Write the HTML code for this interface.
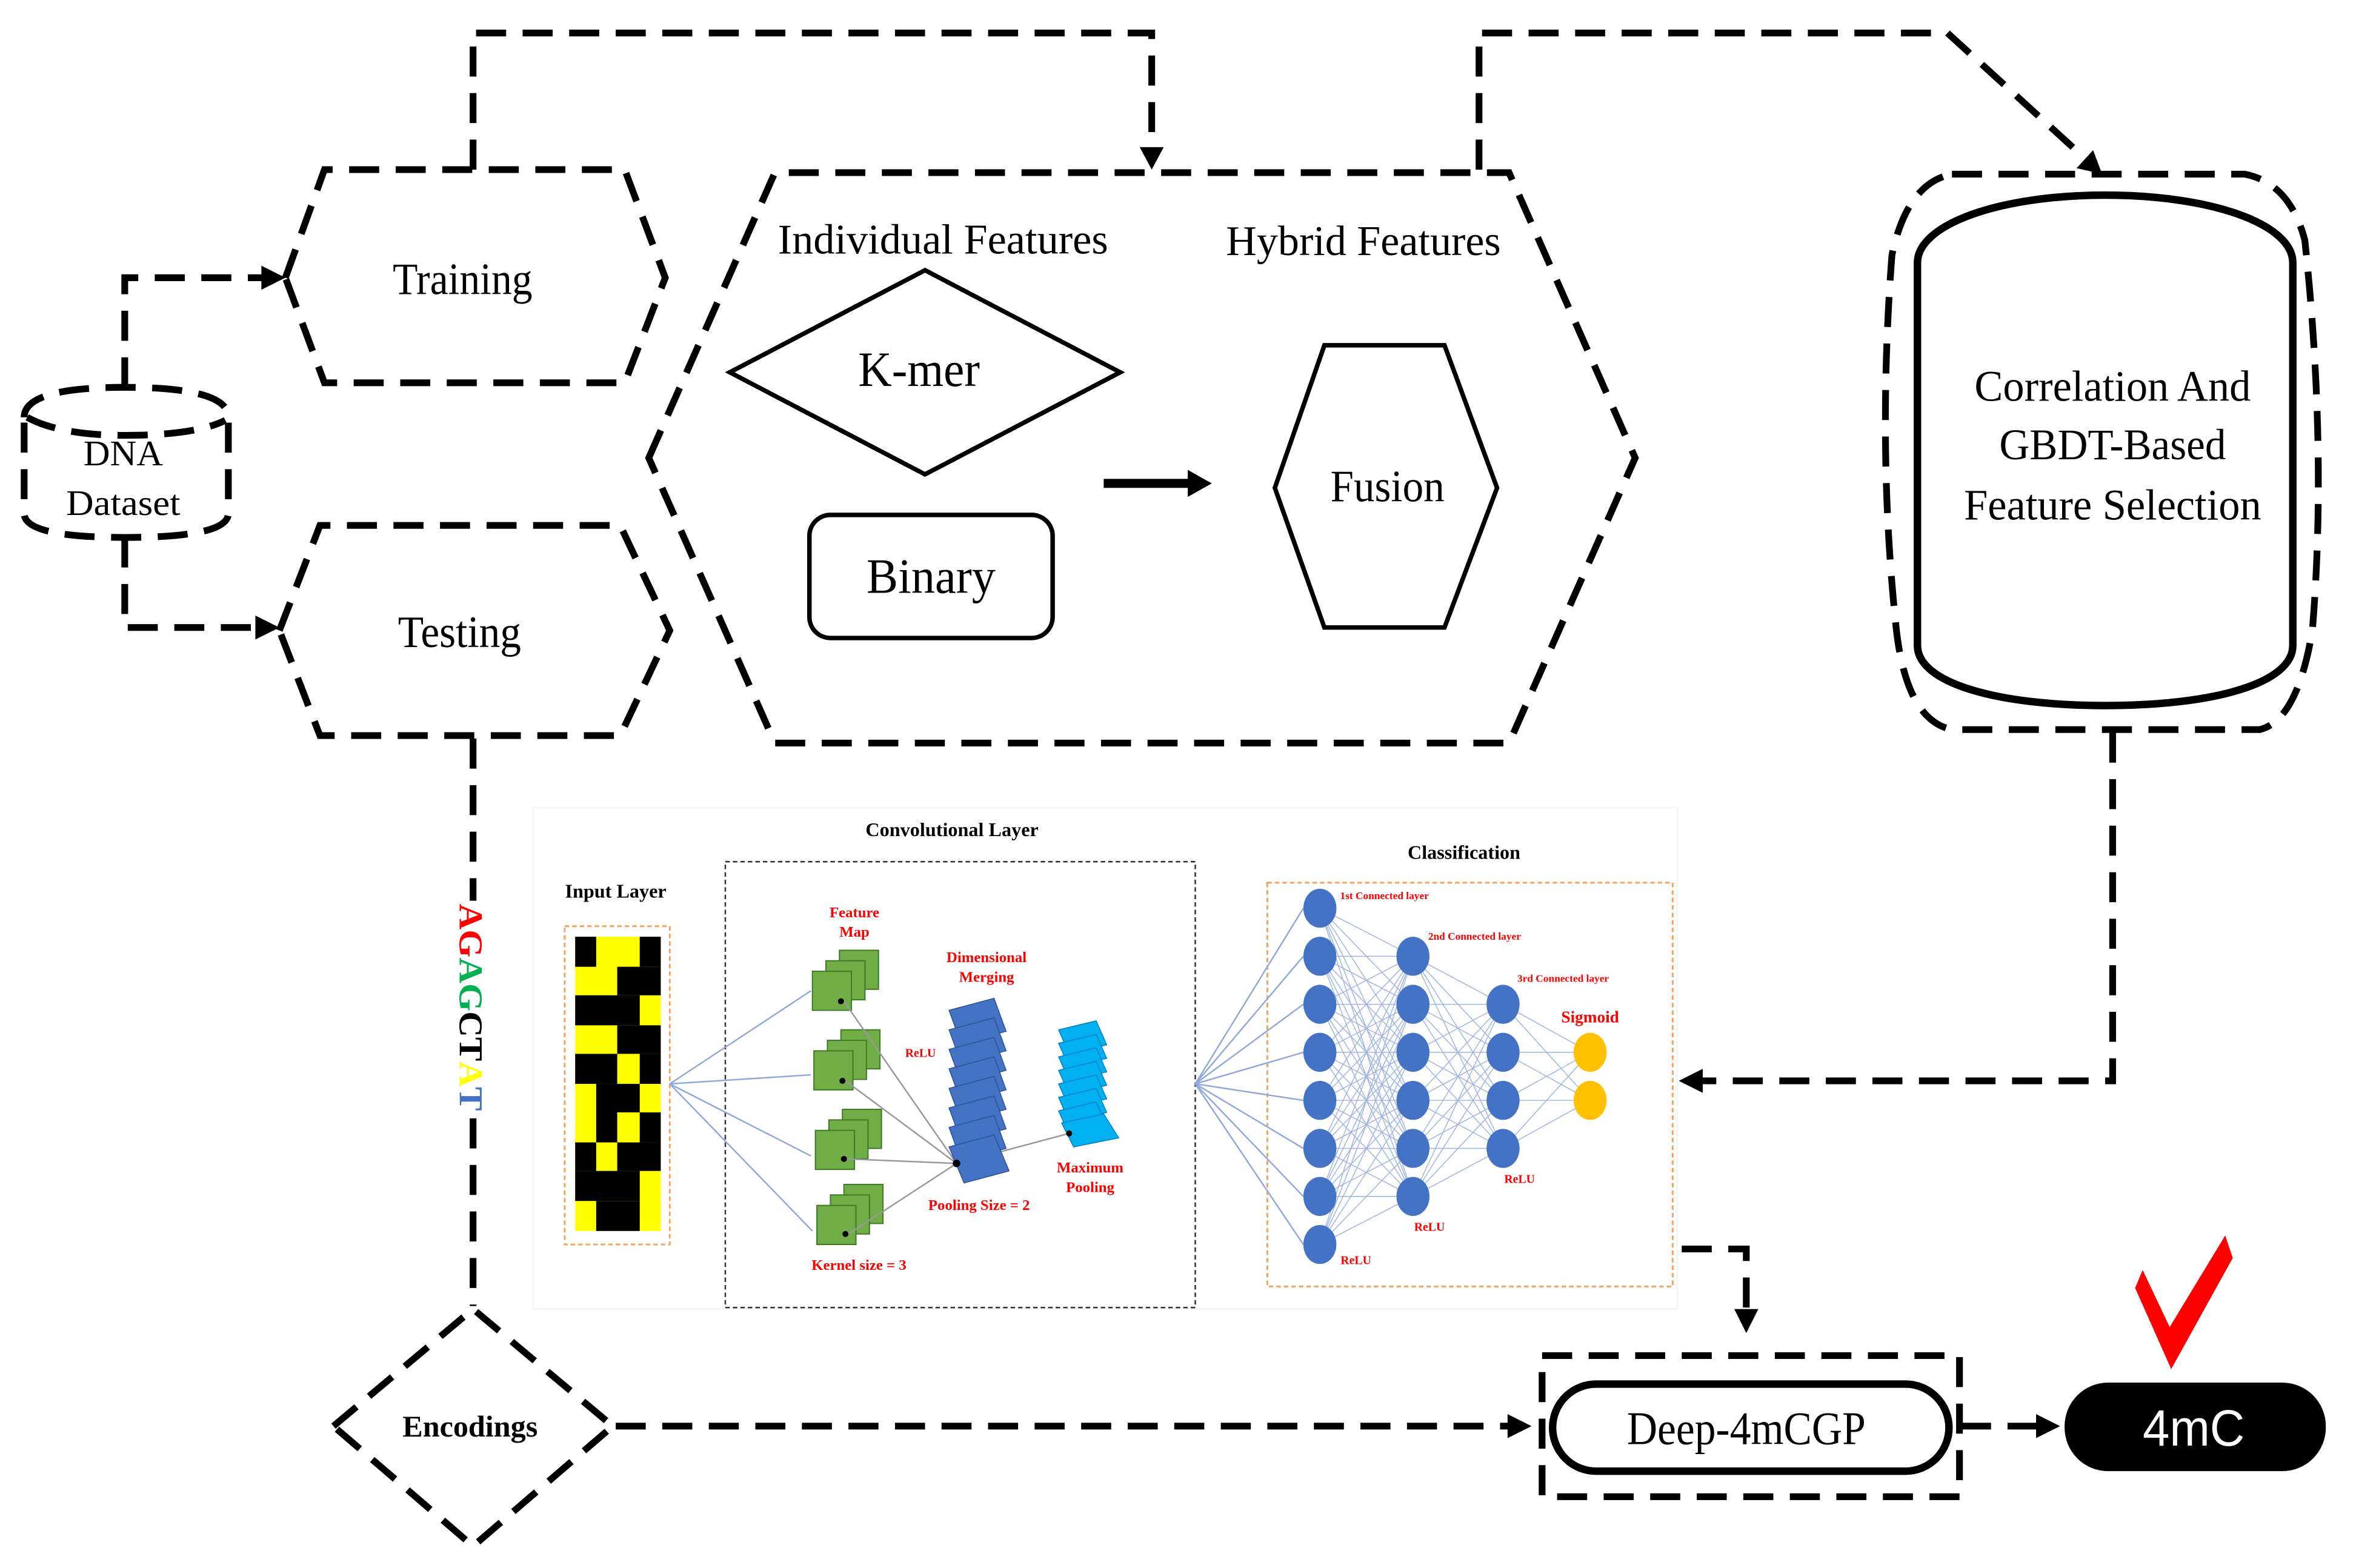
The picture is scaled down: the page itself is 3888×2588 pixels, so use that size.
<!DOCTYPE html>
<html><head><meta charset="utf-8"><style>html,body{margin:0;padding:0;background:#fff}svg{display:block}</style></head>
<body>
<svg xmlns="http://www.w3.org/2000/svg" width="3888" height="2588" viewBox="0 0 1569 1044.5">
<rect width="1570" height="1046" fill="#fff"/>
<g fill="none" stroke="#000" stroke-width="4.5" stroke-dasharray="20 11">
<path d="M16,278 Q16,258 83,258 Q152,258 152,278 L152,342 Q152,358 83,358 Q16,358 16,342 Z"/>
<path d="M18,278 Q40,290 83,290 Q130,290 150,280"/>
<polygon points="190,185 216,113 416,113 443,185 416,255 216,255"/>
<polygon points="186,420 213,350 413,350 446,420 413,490 213,490"/>
<polygon points="432,305 516,115 1005,115 1089,305 1005,495 516,495"/>
<path d="M83,258 L83,185 L178,185"/>
<path d="M83,358 L83,418 L175,418"/>
<path d="M315,113 L315,22 L767,22 L767,100"/>
<path d="M985,113 L985,22 L1297,22 L1388,105"/>
<path d="M1407,488 L1407,720 L1132,720"/>
<path d="M315,492 L315,600"/>
<path d="M315,745 L315,870"/>
<path d="M410,950 L1005,950"/>
<path d="M1120,832 L1163,832 L1163,873"/>
<path d="M1306,950 L1358,950"/>
<polygon points="222,950 315,872 408,950 315,1030"/>
<rect x="1027" y="903" width="278" height="94"/>
<path d="M1300,116 L1495,116 Q1525,122 1535,160 Q1550,300 1540,420 Q1530,480 1505,486 L1300,486 Q1270,480 1263,420 Q1250,300 1260,170 Q1270,122 1300,116 Z"/>
</g>
<g fill="#000">
<polygon points="190,185 174,177 174,193"/>
<polygon points="186,418 170,410 170,426"/>
<polygon points="767,113 759,98 775,98"/>
<polygon points="1400,116 1383,112 1394,100"/>
<polygon points="1118,720 1134,712 1134,728"/>
<polygon points="1020,950 1004,942 1004,958"/>
<polygon points="1163,888 1155,872 1171,872"/>
<polygon points="1372,950 1356,942 1356,958"/>
<polygon points="807,322 791,313 791,331"/>
</g>
<line x1="735" y1="322" x2="793" y2="322" stroke="#000" stroke-width="6"/>
<g fill="none" stroke="#000">
<polygon points="486,248 616,180 746,248 616,316" stroke-width="3"/>
<rect x="539" y="343" width="162" height="82" rx="14" stroke-width="3"/>
<polygon points="849,325 882,230 962,230 997,325 962,418 882,418" stroke-width="3"/>
<path d="M1277,175 C1277,150 1330,130 1402,130 C1475,130 1527,150 1527,175 L1527,430 C1527,455 1475,470 1402,470 C1330,470 1277,455 1277,430 Z" stroke-width="5"/>
<rect x="1034" y="922" width="264" height="58" rx="29" stroke-width="5"/>
</g>
<rect x="1375" y="921" width="174" height="59" rx="29" fill="#000"/>
<polygon points="1422,858 1427,846 1445,884 1482,823 1487,838 1446,912" fill="#f00"/>
<g font-family="'Liberation Serif',serif" fill="#000" text-anchor="middle">
<text x="82" y="310" font-size="24" textLength="53" lengthAdjust="spacingAndGlyphs">DNA</text>
<text x="82" y="343" font-size="24" textLength="76" lengthAdjust="spacingAndGlyphs">Dataset</text>
<text x="308" y="196" font-size="30" textLength="93" lengthAdjust="spacingAndGlyphs">Training</text>
<text x="306" y="431" font-size="30" textLength="82" lengthAdjust="spacingAndGlyphs">Testing</text>
<text x="628" y="169" font-size="28" textLength="220" lengthAdjust="spacingAndGlyphs">Individual Features</text>
<text x="908" y="170" font-size="28" textLength="183" lengthAdjust="spacingAndGlyphs">Hybrid Features</text>
<text x="612" y="257" font-size="33" textLength="81" lengthAdjust="spacingAndGlyphs">K-mer</text>
<text x="620" y="395" font-size="33" textLength="86" lengthAdjust="spacingAndGlyphs">Binary</text>
<text x="924" y="334" font-size="30" textLength="76" lengthAdjust="spacingAndGlyphs">Fusion</text>
<text x="1407" y="267" font-size="29" textLength="184" lengthAdjust="spacingAndGlyphs">Correlation And</text>
<text x="1407" y="306" font-size="29" textLength="151" lengthAdjust="spacingAndGlyphs">GBDT-Based</text>
<text x="1407" y="346" font-size="29" textLength="198" lengthAdjust="spacingAndGlyphs">Feature Selection</text>
<text x="1163" y="962" font-size="31" textLength="159" lengthAdjust="spacingAndGlyphs">Deep-4mCGP</text>
<text x="313" y="957" font-size="20" font-weight="bold" textLength="90" lengthAdjust="spacingAndGlyphs">Encodings</text>
<text x="1461" y="963" font-size="34" fill="#fff" font-family="'Liberation Sans',sans-serif" textLength="68" lengthAdjust="spacingAndGlyphs">4mC</text>
</g>
<text transform="translate(306,602) rotate(90)" font-family="'Liberation Serif',serif" font-size="22" font-weight="bold" textLength="138" lengthAdjust="spacingAndGlyphs"><tspan fill="#f00">AG</tspan><tspan fill="#00b050">AG</tspan><tspan fill="#000">CT</tspan><tspan fill="#ff0">A</tspan><tspan fill="#4472c4">T</tspan></text>

<rect x="355" y="538" width="762" height="334" fill="#fff" stroke="#f4f4f4" stroke-width="1"/>
<g font-family="'Liberation Serif',serif" font-weight="bold" text-anchor="middle">
<text x="634" y="557" font-size="13">Convolutional Layer</text>
<text x="410" y="598" font-size="13">Input Layer</text>
<text x="975" y="572" font-size="13">Classification</text>
<g fill="#f00" font-size="10">
<text x="569" y="611">Feature</text><text x="569" y="624">Map</text>
<text x="613" y="704" font-size="8">ReLU</text>
<text x="657" y="641">Dimensional</text><text x="657" y="654">Merging</text>
<text x="652" y="806">Pooling Size = 2</text>
<text x="572" y="846">Kernel size = 3</text>
<text x="726" y="781">Maximum</text><text x="726" y="794">Pooling</text>
<text x="922" y="599" font-size="7">1st Connected layer</text>
<text x="982" y="626" font-size="7">2nd Connected layer</text>
<text x="1041" y="654" font-size="7">3rd Connected layer</text>
<text x="1059" y="681" font-size="11">Sigmoid</text>
<text x="903" y="842" font-size="8">ReLU</text>
<text x="952" y="820" font-size="8">ReLU</text>
<text x="1012" y="788" font-size="8">ReLU</text>
</g></g>
<rect x="483" y="574" width="313" height="297" fill="none" stroke="#333" stroke-width="1" stroke-dasharray="3 2"/>
<rect x="376" y="617" width="70" height="212" fill="none" stroke="#f4a460" stroke-width="1.2" stroke-dasharray="3 2"/>
<rect x="844" y="588" width="270" height="269" fill="none" stroke="#f4a460" stroke-width="1.2" stroke-dasharray="3 2"/>
<g>
<rect x="383" y="624" width="57" height="196" fill="#ff0"/>
<g fill="#000">
<rect x="383" y="624" width="14" height="20"/><rect x="426" y="624" width="14" height="20"/>
<rect x="411" y="644" width="29" height="19"/>
<rect x="383" y="663" width="43" height="20"/>
<rect x="411" y="683" width="29" height="19"/>
<rect x="383" y="702" width="28" height="20"/><rect x="426" y="702" width="14" height="20"/>
<rect x="397" y="722" width="29" height="19"/>
<rect x="397" y="741" width="14" height="20"/><rect x="426" y="741" width="14" height="20"/>
<rect x="383" y="761" width="14" height="19"/><rect x="411" y="761" width="29" height="19"/>
<rect x="383" y="780" width="43" height="20"/>
<rect x="397" y="800" width="29" height="20"/>
</g></g>
<g stroke="#8fa9dc" stroke-width="1" fill="none">
<path d="M446,722 L540,660 M446,722 L540,716 M446,722 L540,770 M446,722 L541,820"/>
<path d="M796,722 L868,605 M796,722 L868,637 M796,722 L868,669 M796,722 L868,701 M796,722 L868,733 M796,722 L868,765 M796,722 L868,797 M796,722 L868,829"/>
</g>
<g stroke="#9fb5e0" stroke-width="0.6" fill="none">
<path d="M879,605L941,637M879,605L941,669M879,605L941,701M879,605L941,733M879,605L941,765M879,605L941,797M879,637L941,637M879,637L941,669M879,637L941,701M879,637L941,733M879,637L941,765M879,637L941,797M879,669L941,637M879,669L941,669M879,669L941,701M879,669L941,733M879,669L941,765M879,669L941,797M879,701L941,637M879,701L941,669M879,701L941,701M879,701L941,733M879,701L941,765M879,701L941,797M879,733L941,637M879,733L941,669M879,733L941,701M879,733L941,733M879,733L941,765M879,733L941,797M879,765L941,637M879,765L941,669M879,765L941,701M879,765L941,733M879,765L941,765M879,765L941,797M879,797L941,637M879,797L941,669M879,797L941,701M879,797L941,733M879,797L941,765M879,797L941,797M879,829L941,637M879,829L941,669M879,829L941,701M879,829L941,733M879,829L941,765M879,829L941,797"/>
<path d="M941,637L1001,669M941,637L1001,701M941,637L1001,733M941,637L1001,765M941,669L1001,669M941,669L1001,701M941,669L1001,733M941,669L1001,765M941,701L1001,669M941,701L1001,701M941,701L1001,733M941,701L1001,765M941,733L1001,669M941,733L1001,701M941,733L1001,733M941,733L1001,765M941,765L1001,669M941,765L1001,701M941,765L1001,733M941,765L1001,765M941,797L1001,669M941,797L1001,701M941,797L1001,733M941,797L1001,765"/>
<path d="M1001,669L1059,701M1001,669L1059,733M1001,701L1059,701M1001,701L1059,733M1001,733L1059,701M1001,733L1059,733M1001,765L1059,701M1001,765L1059,733"/>
</g>
<g fill="#70ad47" stroke="#3d7a24" stroke-width="0.8">
<rect x="559" y="633" width="26" height="26"/><rect x="550" y="640" width="26" height="26"/><rect x="541" y="647" width="26" height="26"/>
<rect x="560" y="686" width="26" height="26"/><rect x="551" y="693" width="26" height="26"/><rect x="542" y="700" width="26" height="26"/>
<rect x="561" y="739" width="26" height="26"/><rect x="552" y="746" width="26" height="26"/><rect x="543" y="753" width="26" height="26"/>
<rect x="562" y="789" width="26" height="26"/><rect x="553" y="796" width="26" height="26"/><rect x="544" y="803" width="26" height="26"/>
</g>
<g stroke="#999" stroke-width="1"><path d="M562,667L637,775M563,720L637,775M564,772L637,775M565,822L637,775M637,775L712,755"/></g>
<g fill="#4472c4" stroke="#2f528f" stroke-width="0.6">
<polygon points="632,673 662,665 670,687 640,695"/>
<polygon points="632,686 662,678 670,700 640,708"/>
<polygon points="632,699 662,691 670,713 640,721"/>
<polygon points="632,712 662,704 670,726 640,734"/>
<polygon points="632,725 662,717 670,739 640,747"/>
<polygon points="632,738 662,730 670,752 640,760"/>
<polygon points="632,751 662,743 670,765 640,773"/>
<polygon points="632,764 662,756 672,780 642,788"/>
</g>
<g fill="#00b0f0" stroke="#0080c0" stroke-width="0.6">
<polygon points="705,686 730,680 737,696 712,702"/>
<polygon points="705,695 730,689 737,705 712,711"/>
<polygon points="705,704 730,698 737,714 712,720"/>
<polygon points="705,713 730,707 737,723 712,729"/>
<polygon points="705,722 730,716 737,732 712,738"/>
<polygon points="705,731 730,725 737,741 712,747"/>
<polygon points="705,740 730,734 737,750 712,756"/>
<polygon points="707,748 735,742 745,758 715,764"/>
</g>
<g fill="#000"><circle cx="560" cy="667" r="2"/><circle cx="561" cy="720" r="2"/><circle cx="562" cy="772" r="2"/><circle cx="563" cy="822" r="2"/><circle cx="637" cy="775" r="2.5"/><circle cx="712" cy="755" r="2"/></g>
<g fill="#4472c4">
<ellipse cx="879" cy="605" rx="11" ry="13"/><ellipse cx="879" cy="637" rx="11" ry="13"/><ellipse cx="879" cy="669" rx="11" ry="13"/><ellipse cx="879" cy="701" rx="11" ry="13"/><ellipse cx="879" cy="733" rx="11" ry="13"/><ellipse cx="879" cy="765" rx="11" ry="13"/><ellipse cx="879" cy="797" rx="11" ry="13"/><ellipse cx="879" cy="829" rx="11" ry="13"/>
<ellipse cx="941" cy="637" rx="11" ry="13"/><ellipse cx="941" cy="669" rx="11" ry="13"/><ellipse cx="941" cy="701" rx="11" ry="13"/><ellipse cx="941" cy="733" rx="11" ry="13"/><ellipse cx="941" cy="765" rx="11" ry="13"/><ellipse cx="941" cy="797" rx="11" ry="13"/>
<ellipse cx="1001" cy="669" rx="11" ry="13"/><ellipse cx="1001" cy="701" rx="11" ry="13"/><ellipse cx="1001" cy="733" rx="11" ry="13"/><ellipse cx="1001" cy="765" rx="11" ry="13"/>
</g>
<g fill="#ffc000"><ellipse cx="1059" cy="701" rx="11" ry="13"/><ellipse cx="1059" cy="733" rx="11" ry="13"/></g>
</svg>
</body></html>
